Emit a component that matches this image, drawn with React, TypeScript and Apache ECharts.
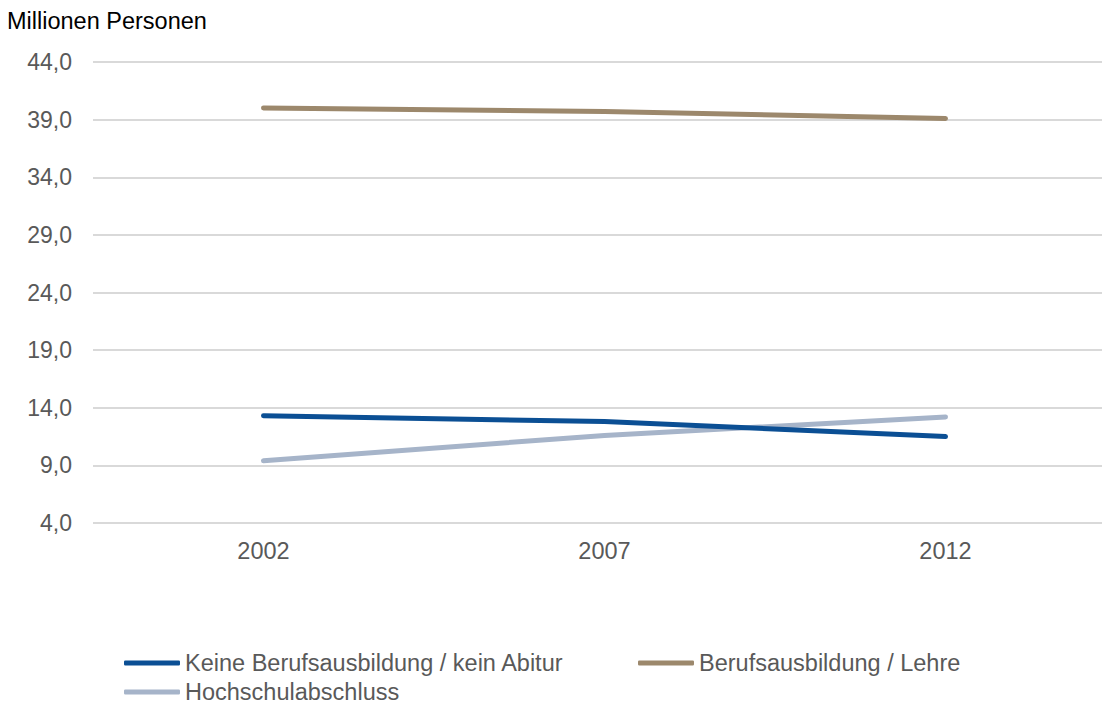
import React, { useEffect, useRef } from "react";
import * as echarts from "echarts";

// Erwerbspersonen nach Bildungsabschluss, in Millionen
const years = ["2002", "2007", "2012"];
const keineAusbildung = [13.3, 12.8, 11.5];
const berufsausbildung = [40.0, 39.7, 39.1];
const hochschule = [9.4, 11.6, 13.2];
const yTicks = [4, 9, 14, 19, 24, 29, 34, 39, 44];

const seriesNames = [
  "Keine Berufsausbildung / kein Abitur",
  "Berufsausbildung / Lehre",
  "Hochschulabschluss",
];
const seriesColors = ["#0b4f94", "#9c886c", "#a6b4c9"];

const FONT = "'Liberation Sans', Arial, Helvetica, sans-serif";
const GREY = "#595959";
const TEXT_SIZE = 23.5;

const fmt = (v: number) => v.toFixed(1).replace(".", ",");

export default function App() {
  const ref = useRef<HTMLDivElement>(null);

  useEffect(() => {
    if (!ref.current) return;
    const chart = echarts.init(ref.current, undefined, { renderer: "svg" });
    const values = [keineAusbildung, berufsausbildung, hochschule];

    const legendItem = (i: number, left: number, top: number) => ({
      show: true,
      left,
      top,
      orient: "horizontal",
      data: [seriesNames[i]],
      icon: "roundRect",
      itemWidth: 56,
      itemHeight: 5,
      itemGap: 0,
      padding: 0,
      selectedMode: false,
      textStyle: {
        color: GREY,
        fontSize: TEXT_SIZE,
        fontFamily: FONT,
      },
    });

    chart.setOption({
      animation: false,
      backgroundColor: "#ffffff",
      textStyle: { fontFamily: FONT },
      title: {
        text: "Millionen Personen",
        left: 7,
        top: 9,
        padding: 0,
        textStyle: {
          color: "#000000",
          fontSize: TEXT_SIZE,
          fontWeight: "normal",
          fontFamily: FONT,
        },
      },
      // the plot runs past the right edge of the visible area
      grid: {
        left: 93,
        right: 0,
        top: 62,
        bottom: 182,
        containLabel: false,
      },
      legend: [
        legendItem(0, 124, 651),
        legendItem(1, 638, 651),
        legendItem(2, 124, 680),
      ],
      xAxis: {
        type: "category",
        data: years,
        boundaryGap: true,
        axisLine: { show: false },
        axisTick: { show: false },
        axisLabel: {
          color: GREY,
          fontSize: TEXT_SIZE,
          fontFamily: FONT,
          margin: 16,
        },
        splitLine: { show: false },
      },
      yAxis: {
        type: "value",
        min: 4,
        max: 44,
        axisLine: { show: false },
        axisTick: { show: false, customValues: yTicks },
        axisLabel: {
          color: GREY,
          fontSize: 23,
          fontFamily: FONT,
          margin: 21,
          customValues: yTicks,
          formatter: (v: number) => fmt(v),
        },
        splitLine: {
          show: true,
          lineStyle: { color: "#d9d9d9", width: 2 },
        },
      },
      series: values.map((data, i) => ({
        name: seriesNames[i],
        type: "line",
        data,
        symbol: "none",
        color: seriesColors[i],
        lineStyle: { width: 5, color: seriesColors[i], cap: "round" },
        itemStyle: { color: seriesColors[i] },
        z: 3 + (i === 0 ? 1 : 0),
      })),
    });

    return () => chart.dispose();
  }, []);

  return (
    <div
      style={{
        position: "fixed",
        left: 0,
        top: 0,
        width: 1102,
        height: 705,
        overflow: "hidden",
      }}
    >
      <div ref={ref} style={{ width: 1116, height: 705 }} />
    </div>
  );
}
